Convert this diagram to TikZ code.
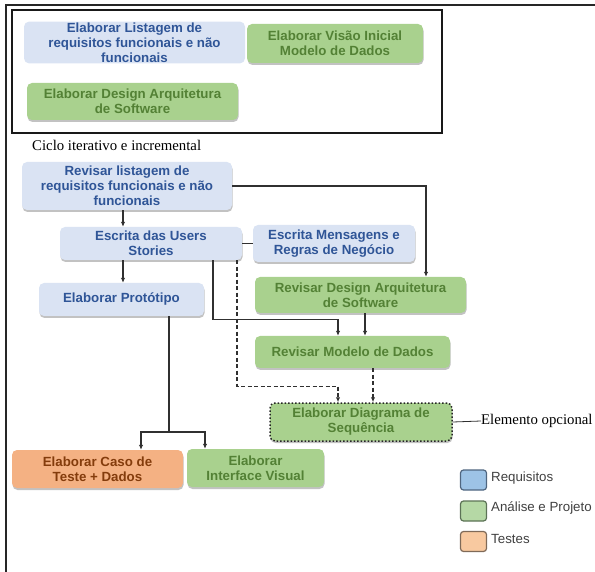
\documentclass[tikz,border=0pt]{standalone}
\usepackage{fontspec}
\setmainfont{Liberation Serif}
\newfontfamily\arialf{Liberation Sans}
\usetikzlibrary{arrows.meta,shadows,calc}
\definecolor{bfill}{HTML}{DAE3F3}
\definecolor{btext}{HTML}{2F5597}
\definecolor{gfill}{HTML}{A9D18E}
\definecolor{gtext}{HTML}{538135}
\definecolor{ofill}{HTML}{F4B183}
\definecolor{otext}{HTML}{843C0C}
\definecolor{lnc}{HTML}{303030}
\definecolor{lbf}{HTML}{9DC3E6}
\definecolor{lbd}{HTML}{4F6680}
\definecolor{lgf}{HTML}{B5D8A5}
\definecolor{lgd}{HTML}{5C7356}
\definecolor{lof}{HTML}{F8C9A0}
\definecolor{lod}{HTML}{7F6A58}
\tikzset{
  x=1pt, y=-1pt,
  boxbase/.style={rectangle, rounded corners=5pt, align=center, inner sep=1pt,
    font=\arialf\bfseries\fontsize{13.3}{15}\selectfont},
  shad/.style={drop shadow={shadow xshift=0.5pt, shadow yshift=-2pt, fill=black!60, opacity=0.4}},
  bluebox/.style={boxbase, fill=bfill, text=btext},
  greenbox/.style={boxbase, shad, fill=gfill, text=gtext},
  orangebox/.style={boxbase, shad, fill=ofill, text=otext},
  sz/.style 2 args={minimum width=#1pt, minimum height=#2pt},
  conn/.style={draw=lnc, line width=1.1pt},
  arr/.style={conn, -{Latex[length=5pt,width=4.5pt]}},
  darr/.style={arr, dash pattern=on 4pt off 2.5pt},
  legsq/.style={rectangle, rounded corners=3pt, line width=1.2pt, minimum width=26pt, minimum height=20pt},
  legtxt/.style={anchor=west, text=black!75, font=\arialf\fontsize{13.3}{15}\selectfont, inner sep=0pt},
  serif/.style={font=\fontsize{14.8}{17}\selectfont, inner sep=0pt}
}
\begin{document}
\begin{tikzpicture}
\useasboundingbox (0,0) rectangle (595,572);
% outer frame
\draw[line width=1.2pt, black!85] (6,572) -- (6,5) -- (595,5);
% top box
\draw[line width=1.8pt, black!90] (12,10) rectangle (442,133);
\node[bluebox, sz={221}{41}] (A) at (134.5,42.5) {Elaborar Listagem de\\requisitos funcionais e não\\funcionais};
\node[greenbox, sz={176}{39}] (B) at (335,43.5) {Elaborar Visão Inicial\\Modelo de Dados};
\node[greenbox, sz={211}{37}] (C) at (132.5,101.5) {Elaborar Design Arquitetura\\de Software};
\node[serif, anchor=west] (ciclo) at (32,145) {Ciclo iterativo e incremental};
% lower
\node[bluebox, shad, sz={210}{48}] (R) at (127,186) {Revisar listagem de\\requisitos funcionais e não\\funcionais};
\node[bluebox, shad, sz={182}{33}] (U) at (151,243.5) {Escrita das Users\\Stories};
\node[bluebox, shad, sz={162}{37}] (M) at (334,243.5) {Escrita Mensagens e\\Regras de Negócio};
\node[greenbox, sz={211}{36}] (D) at (360.5,295) {Revisar Design Arquitetura\\de Software};
\node[greenbox, sz={195}{32}] (RM) at (352.5,352) {Revisar Modelo de Dados};
\node[bluebox, shad, sz={165}{33}] (P) at (121.5,299.5) {Elaborar Protótipo};
\node[greenbox, sz={182}{38}, draw=black!85, line width=1.5pt, dotted] (SQ) at (361,422) {Elaborar Diagrama de\\Sequência};
\node[orangebox, sz={171}{38}] (T) at (97.5,469) {Elaborar Caso de\\Teste + Dados};
\node[greenbox, sz={137}{38}] (I) at (255.5,468) {Elaborar\\Interface Visual};
% optional label
\node[serif, anchor=west] (opt) at (481,421) {Elemento opcional};
\draw[conn, line width=0.8pt] (SQ.east) -- (opt.west);
% connectors
\draw[arr] ([xshift=-4pt]R.south) -- ([xshift=-4pt]R.south |- U.north);
\draw[arr] (R.east) -| ([xshift=65.5pt]D.north);
\draw[conn] (U.east) -- (M.west);
\draw[arr] ([xshift=-28pt]U.south) -- ([xshift=-28pt]U.south |- P.north);
\draw[arr] ([xshift=62pt]U.south) -- ++(0,59) -| ([xshift=-14.5pt]RM.north);
\draw[arr] ([xshift=4.5pt]D.south) -- ([xshift=4.5pt]D.south |- RM.north);
\draw[darr] ([xshift=86pt]U.south) -- ++(0,126) -| ([xshift=-23pt]SQ.north);
\draw[darr] ([xshift=20.5pt]RM.south) -- ([xshift=20.5pt]RM.south |- SQ.north);
\coordinate (split) at (169,432);
\draw[conn] ([xshift=47.5pt]P.south) -- (split);
\draw[arr] (split) -| ([xshift=43.5pt]T.north);
\draw[arr] (split) -| ([xshift=-50.5pt]I.north);
% legend
\node[legsq, fill=lbf, draw=lbd] (L1) at (473.5,480) {};
\node[legsq, fill=lgf, draw=lgd] (L2) at (473.5,511) {};
\node[legsq, fill=lof, draw=lod] (L3) at (473.5,541.5) {};
\node[legtxt] (L1t) at (491,478) {Requisitos};
\node[legtxt] (L2t) at (491,508) {Análise e Projeto};
\node[legtxt] (L3t) at (491,539) {Testes};
\end{tikzpicture}
\end{document}
